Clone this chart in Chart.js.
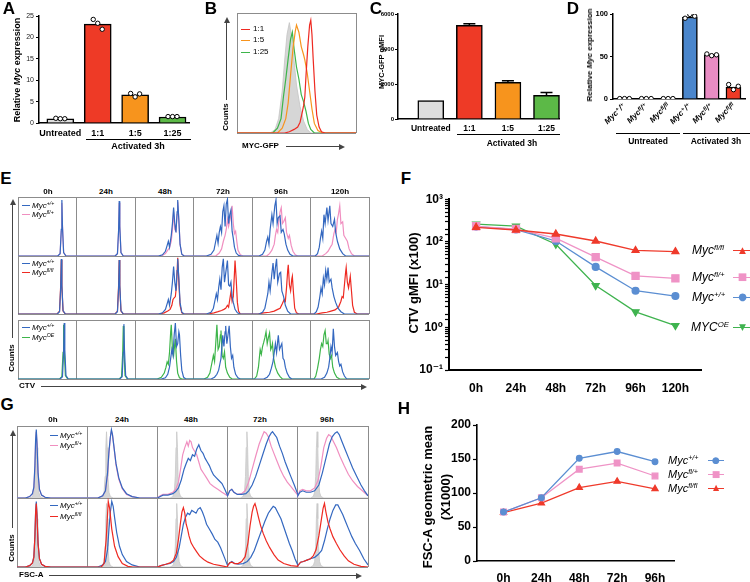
<!DOCTYPE html>
<html><head><meta charset="utf-8">
<script src="https://cdn.jsdelivr.net/npm/chart.js@4.4.1/dist/chart.umd.min.js"></script>
<style>
body{margin:0;background:#fff;width:750px;height:582px;position:relative;overflow:hidden;font-family:"Liberation Sans",Arial,sans-serif;color:#000}
canvas{position:absolute}
.t{position:absolute;white-space:nowrap;font-weight:bold;line-height:1}
sup{font-size:65%;vertical-align:0.5em;line-height:0}
.ln{position:absolute;height:0}
.vl{position:absolute;width:0}
.hd{position:absolute;width:0;height:0}
</style></head><body>
<script>
// ---------------- DATA ----------------
const A_CATS = ['Untreated', '1:1', '1:5', '1:25'];
const A_VALUES = [1.0, 23.1, 6.6, 1.4];
const A_DOTS = [[1.1, 1.0, 1.0], [24.2, 23.3, 21.9], [6.9, 6.1, 6.8], [1.5, 1.5, 1.5]];
const C_CATS = ['Untreated', '1:1', '1:5', '1:25'];
const C_VALUES = [1050, 5350, 2100, 1350];
const C_ERR_TOP = [1050, 5450, 2180, 1520];
const D_CATS = ['Myc⁺/⁺', 'Mycᶠˡ/⁺', 'Mycᶠˡ/ᶠˡ', 'Myc⁺/⁺', 'Mycᶠˡ/⁺', 'Mycᶠˡ/ᶠˡ'];
const D_VALUES = [0.5, 0.5, 0.5, 96.5, 52, 14];
const D_DOTS = [[0.5, 0.5, 0.5], [0.5, 0.5, 0.5], [0.5, 0.5, 0.5], [95, 99.5, 97.5], [53, 51, 52], [17, 11, 15]];

// B histograms (x: % of plot width, y: % of height)
const B_GRAY = [[0,0],[28,0],[32,3],[35,12],[38,35],[40,60],[42,82],[44,92],[46,80],[48,60],[50,40],[53,22],[56,10],[59,3],[62,0],[100,0]];
const B_GREEN = [[0,0],[30,0],[34,4],[37,12],[39,30],[41,45],[43,62],[45,78],[46.5,84],[48,70],[50,55],[52,45],[54,32],[56,26],[58,18],[60,8],[62,3],[65,0],[100,0]];
const B_ORANGE = [[0,0],[34,0],[38,4],[41,12],[43,25],[45,48],[47,70],[49,85],[50,90],[52,84],[54,72],[56,65],[57,61],[59,50],[61,35],[63,20],[65,8],[68,2],[72,0],[100,0]];
const B_RED = [[0,0],[40,0],[44,1],[48,3],[51,5],[53,9],[55,18],[56,23],[57,30],[58,48],[59.5,72],[61,90],[62,94],[63,82],[64,62],[65.5,35],[67,15],[69,5],[71,1],[74,0],[100,0]];

// E: CTV histograms, one list of panels (0h..120h) per curve per row
const E_TIMES = ['0h', '24h', '48h', '72h', '96h', '120h'];
const E1_BLUE = [
 [[0,0],[68,0],[72,4],[74,45],[75,95],[76,50],[78,6],[82,0],[100,0]],
 [[0,0],[66,0],[70,4],[72,45],[73,93],[74,50],[76,6],[80,0],[100,0]],
 [[0,0],[40,0],[47,2],[52,8],[55,18],[57,25],[59,15],[62,35],[64,55],[66,82],[68,55],[70,40],[72,75],[73,95],[75,60],[77,20],[80,3],[84,0],[100,0]],
 [[0,0],[22,0],[30,3],[35,10],[38,25],[40,35],[42,22],[44,40],[46,50],[48,40],[50,75],[52,85],[54,50],[56,88],[58,96],[60,55],[62,70],[64,78],[66,42],[68,30],[70,15],[73,5],[77,1],[82,0],[100,0]],
 [[0,0],[12,0],[18,3],[22,10],[25,25],[27,32],[29,20],[31,45],[34,70],[36,55],[39,85],[41,95],[43,55],[45,65],[48,68],[50,40],[53,45],[55,38],[58,20],[61,10],[65,3],[70,0],[100,0]],
 [[0,0],[8,0],[12,4],[15,15],[17,30],[19,42],[21,30],[23,70],[25,55],[28,82],[30,60],[33,85],[35,55],[38,50],[41,62],[43,40],[46,25],[50,12],[55,4],[60,0],[100,0]]
];
const E1_PINK = [
 [[0,0],[68,0],[72,4],[74,42],[75,90],[76,52],[78,6],[82,0],[100,0]],
 [[0,0],[66,0],[70,4],[72,42],[73,90],[74,52],[76,6],[80,0],[100,0]],
 [[0,0],[45,0],[52,4],[56,10],[59,14],[62,25],[64,45],[66,75],[68,45],[70,42],[72,70],[73,92],[75,60],[77,20],[80,3],[84,0],[100,0]],
 [[0,0],[38,0],[44,5],[48,12],[51,25],[54,35],[56,45],[58,62],[60,50],[62,60],[64,70],[66,85],[68,55],[70,38],[72,42],[74,25],[76,10],[80,2],[85,0],[100,0]],
 [[0,0],[25,0],[30,4],[34,10],[38,20],[40,35],[42,45],[44,40],[46,60],[48,75],[50,82],[52,55],[54,58],[57,65],[59,40],[62,30],[64,35],[67,18],[70,8],[74,2],[78,0],[100,0]],
 [[0,0],[20,0],[26,4],[30,8],[34,15],[37,20],[40,38],[42,45],[44,40],[46,62],[48,72],[50,85],[52,55],[55,58],[57,35],[60,30],[63,25],[66,12],[70,4],[75,0],[100,0]]
];
const E2_BLUE = [
 [[0,0],[67,0],[71,4],[73,45],[74,95],[75,50],[77,6],[81,0],[100,0]],
 [[0,0],[66,0],[70,4],[72,45],[73,93],[74,50],[76,6],[80,0],[100,0]],
 [[0,0],[40,0],[47,2],[52,8],[55,18],[57,25],[59,15],[62,35],[64,55],[66,82],[68,55],[70,40],[72,75],[73,95],[75,60],[77,20],[80,3],[84,0],[100,0]],
 [[0,0],[22,0],[30,3],[34,10],[37,25],[39,35],[41,25],[43,45],[45,60],[47,42],[49,80],[51,95],[53,55],[55,70],[58,92],[60,50],[62,48],[64,55],[66,30],[68,20],[71,8],[75,2],[80,0],[100,0]],
 [[0,0],[12,0],[18,3],[22,10],[25,25],[27,35],[29,55],[31,40],[34,70],[36,88],[38,60],[40,80],[42,95],[44,55],[47,70],[49,72],[51,40],[54,30],[57,15],[61,5],[66,0],[100,0]],
 [[0,0],[6,0],[10,4],[13,12],[16,30],[18,45],[20,35],[22,62],[24,50],[26,75],[28,60],[30,80],[32,55],[35,60],[37,45],[40,30],[43,20],[47,10],[52,4],[58,0],[100,0]]
];
const E2_RED = [
 [[0,0],[67,0],[71,5],[73,50],[74,93],[75,48],[77,5],[81,0],[100,0]],
 [[0,0],[66,0],[70,5],[72,50],[73,93],[74,48],[76,5],[80,0],[100,0]],
 [[0,0],[42,0],[50,2],[56,5],[60,8],[63,15],[65,25],[67,28],[69,30],[71,50],[73,97],[75,55],[77,15],[80,2],[84,0],[100,0]],
 [[0,0],[25,0],[35,2],[42,4],[48,6],[52,8],[55,10],[58,15],[60,12],[62,25],[64,38],[66,22],[68,30],[70,70],[71,92],[73,60],[75,20],[77,5],[80,0],[100,0]],
 [[0,0],[10,0],[20,2],[30,3],[38,5],[44,8],[48,10],[52,18],[55,25],[57,22],[59,45],[61,75],[62,85],[64,50],[66,40],[68,60],[69,65],[71,35],[73,10],[76,2],[80,0],[100,0]],
 [[0,0],[10,0],[20,2],[28,3],[35,5],[42,7],[48,12],[52,22],[54,30],[56,28],[58,50],[60,72],[61,80],[63,55],[65,45],[67,58],[68,65],[70,40],[72,15],[75,3],[80,0],[100,0]]
];
const E3_BLUE = [
 [[0,0],[72,0],[76,4],[78,45],[79,95],[80,50],[82,6],[86,0],[100,0]],
 [[0,0],[74,0],[78,4],[80,45],[81,93],[82,50],[84,6],[88,0],[100,0]],
 [[0,0],[45,0],[52,2],[56,8],[59,20],[61,35],[63,50],[65,40],[67,75],[69,95],[71,55],[73,60],[75,80],[76,75],[78,40],[80,15],[83,3],[87,0],[100,0]],
 [[0,0],[30,0],[36,3],[40,8],[43,15],[45,25],[47,35],[50,74],[52,55],[54,80],[55,90],[57,60],[59,75],[61,90],[63,55],[65,35],[67,40],[69,20],[72,8],[76,2],[80,0],[100,0]],
 [[0,0],[20,0],[26,3],[30,8],[33,18],[36,30],[38,45],[40,60],[42,45],[44,65],[45,74],[47,50],[49,55],[51,60],[53,35],[55,32],[57,20],[60,10],[64,3],[68,0],[100,0]],
 [[0,0],[18,0],[24,3],[28,10],[31,20],[33,35],[35,55],[37,45],[39,85],[41,55],[43,40],[46,45],[48,30],[50,22],[52,25],[55,12],[58,5],[62,0],[100,0]]
];
const E3_GREEN = [
 [[0,0],[71,0],[75,4],[77,45],[78,92],[79,50],[81,6],[85,0],[100,0]],
 [[0,0],[73,0],[77,4],[79,45],[80,90],[81,50],[83,6],[87,0],[100,0]],
 [[0,0],[38,0],[45,3],[50,10],[53,20],[55,29],[57,25],[59,45],[61,80],[62,92],[64,50],[66,40],[68,60],[69,68],[71,30],[73,10],[76,2],[80,0],[100,0]],
 [[0,0],[18,0],[24,3],[28,10],[31,25],[33,35],[34,40],[36,30],[38,60],[40,92],[42,50],[44,55],[46,75],[47,82],[49,40],[51,35],[53,46],[55,20],[58,10],[62,3],[66,0],[100,0]],
 [[0,0],[4,0],[8,5],[11,20],[13,40],[14,50],[16,42],[18,55],[20,62],[22,70],[24,80],[26,60],[28,70],[30,78],[32,50],[34,55],[35,60],[37,35],[40,20],[44,10],[48,4],[52,0],[100,0]],
 [[0,0],[6,0],[9,5],[12,18],[15,35],[17,50],[19,60],[21,55],[23,75],[25,82],[27,60],[29,60],[30,65],[32,42],[34,35],[36,40],[38,20],[41,10],[45,3],[50,0],[100,0]]
];

// G: FSC-A histograms (0h..96h)
const G_TIMES = ['0h', '24h', '48h', '72h', '96h'];
const G_GRAY = [[0,0],[18,0],[22,2],[24,8],[25.5,30],[26.5,70],[27.5,92],[28.5,70],[29.5,30],[31,8],[33,2],[37,0],[100,0]];
const G1_BLUE = [
 [[0,0],[12,0],[18,2],[22,6],[24,15],[25.5,45],[26.5,80],[27.5,95],[28.5,75],[30,35],[32,12],[35,4],[40,1],[48,0],[100,0]],
 [[0,0],[15,0],[22,3],[26,10],[29,35],[31,65],[33,85],[34.5,95],[36,88],[38,72],[41,48],[45,28],[50,14],[56,6],[64,2],[75,0],[100,0]],
 [[0,0],[4,2],[8,4],[15,4],[22,6],[26,9],[30,14],[34,25],[38,40],[41,48],[44,55],[47,52],[50,60],[53,58],[56,68],[59,74],[62,66],[65,62],[68,55],[71,50],[74,45],[77,38],[80,32],[84,28],[88,24],[92,20],[96,12],[100,3]],
 [[0,3],[3,10],[6,12],[9,8],[14,5],[20,5],[26,6],[30,10],[35,18],[40,30],[45,45],[50,60],[55,75],[59,85],[62,90],[64,92],[67,88],[70,84],[74,72],[78,62],[82,50],[86,40],[90,30],[95,18],[100,5]],
 [[0,3],[3,8],[7,10],[12,8],[18,8],[24,10],[30,18],[35,35],[40,55],[45,75],[49,85],[53,90],[56,92],[59,88],[63,78],[68,66],[73,54],[78,42],[84,30],[90,18],[95,10],[100,3]]
];
const G1_PINK = [
 [[0,0],[12,0],[18,2],[22,6],[24,14],[25.5,42],[26.5,78],[27.5,92],[28.5,75],[30,35],[32,12],[35,4],[40,1],[48,0],[100,0]],
 [[0,0],[15,0],[22,3],[26,10],[29,32],[31,62],[33,84],[34.5,93],[36,88],[38,72],[41,46],[45,26],[50,13],[56,5],[64,2],[75,0],[100,0]],
 [[0,0],[4,3],[8,5],[15,5],[22,8],[26,12],[30,22],[33,40],[36,60],[39,70],[42,78],[44,72],[46,80],[48,78],[50,70],[53,65],[56,60],[59,50],[62,40],[66,34],[70,28],[75,20],[80,16],[86,12],[92,8],[100,3]],
 [[0,3],[3,10],[6,12],[9,8],[14,5],[20,6],[25,10],[30,22],[35,40],[40,58],[45,75],[49,85],[52,92],[55,90],[58,85],[62,72],[66,62],[70,52],[75,40],[80,30],[85,22],[90,16],[95,10],[100,4]],
 [[0,3],[3,10],[7,12],[12,10],[18,10],[24,14],[29,25],[33,45],[37,70],[41,83],[44,88],[47,86],[50,80],[55,70],[60,58],[66,45],[72,33],[78,24],[85,16],[92,10],[100,3]]
];
const G2_BLUE = [
 [[0,0],[12,0],[18,2],[22,6],[24,15],[25.5,45],[26.5,80],[27.5,95],[28.5,75],[30,35],[32,12],[35,4],[40,1],[48,0],[100,0]],
 [[0,0],[15,0],[22,3],[26,8],[29,25],[31,55],[33,80],[35,95],[37,88],[39,72],[42,50],[46,30],[50,18],[56,8],[64,3],[75,0],[100,0]],
 [[0,0],[5,2],[12,4],[18,5],[23,8],[27,14],[31,28],[34,45],[37,62],[40,72],[43,78],[46,76],[49,82],[52,80],[55,78],[58,84],[61,86],[64,80],[67,72],[70,62],[74,55],[78,48],[82,40],[86,36],[90,28],[95,15],[100,2]],
 [[0,2],[3,6],[6,8],[10,5],[15,4],[22,5],[28,8],[33,14],[38,24],[43,38],[48,52],[53,66],[58,78],[62,84],[65,88],[68,86],[72,78],[76,70],[80,58],[84,46],[88,34],[92,24],[96,12],[100,3]],
 [[0,2],[4,7],[8,8],[13,10],[18,12],[24,14],[29,18],[34,24],[38,38],[42,55],[46,70],[50,82],[54,90],[57,90],[60,84],[64,76],[68,66],[72,56],[77,44],[82,34],[88,24],[94,12],[100,3]]
];
const G2_RED = [
 [[0,0],[12,0],[18,2],[22,6],[24,14],[25.5,44],[26.5,78],[27.5,92],[28.5,74],[30,34],[32,12],[35,4],[40,1],[48,0],[100,0]],
 [[0,0],[20,0],[24,5],[27,40],[30,95],[32,85],[35,55],[39,30],[44,15],[50,5],[58,1],[65,0],[100,0]],
 [[0,0],[5,2],[12,4],[18,6],[23,10],[27,20],[30,40],[33,65],[35,80],[37,86],[39,78],[41,62],[43,55],[45,45],[48,35],[52,28],[56,22],[60,16],[66,11],[72,7],[80,4],[90,2],[100,0]],
 [[0,2],[3,6],[6,7],[10,5],[15,5],[20,8],[25,15],[29,35],[32,60],[35,80],[37,88],[39,92],[41,85],[44,72],[47,60],[51,48],[55,38],[60,28],[66,18],[72,10],[80,5],[90,2],[100,1]],
 [[0,2],[4,7],[8,8],[13,10],[18,12],[22,16],[26,25],[30,45],[33,65],[36,85],[38,92],[40,80],[43,65],[46,55],[50,44],[55,34],[60,25],[66,16],[72,9],[80,4],[90,1],[100,0]]
];

// F: CTV gMFI (x100), log scale
const F_TIMES = ['0h', '24h', '48h', '72h', '96h', '120h'];
const F_FLFL = [220, 190, 153, 105, 63, 59];
const F_FLP = [232, 200, 122, 44, 16, 14];
const F_WT = [228, 195, 105, 26, 7.2, 5.4];
const F_OE = [260, 235, 88, 9.5, 2.3, 1.1];
const F_YTICKS = {'3': '10³', '2': '10²', '1': '10¹', '0': '10⁰', '-1': '10⁻¹'};

// H: FSC-A geometric mean (x1000)
const H_TIMES = ['0h', '24h', '48h', '72h', '96h'];
const H_WT = [72, 93, 151, 161, 146];
const H_FLP = [72, 93, 135, 144, 125];
const H_FLFL = [71, 85, 108, 117, 106];

// ---------------- STYLE ----------------
const COL = {gray:'#dedede', red:'#ee3a26', orange:'#f7941d', green:'#5cb947',
  hBlue:'#3468c0', hPink:'#f08fc0', hRed:'#ee2a22', hGreen:'#3db54a', hGray:'#d6d6d6',
  lBlue:'#5b8ed2', lPink:'#ef93c6', lRed:'#ef3a2b', lGreen:'#3fb34f', dBlue:'#4a86cc', dPink:'#e88cc3'};
Chart.defaults.font.family = '"Liberation Sans", Arial, "DejaVu Sans", sans-serif';
Chart.defaults.color = '#000';
Chart.defaults.animation = false;
Chart.defaults.plugins.legend.display = false;
Chart.defaults.plugins.tooltip.enabled = false;

function mk(l, t, w, h) {
  const c = document.createElement('canvas');
  c.width = w; c.height = h;
  c.style.left = l + 'px'; c.style.top = t + 'px'; c.style.width = w + 'px'; c.style.height = h + 'px';
  document.body.appendChild(c);
  return c;
}
function T(html, x, y, size, mode, extra) {
  const d = document.createElement('div');
  d.className = 't'; d.innerHTML = html;
  d.style.left = x + 'px'; d.style.top = y + 'px'; d.style.fontSize = size + 'px';
  d.style.transform = mode === 'l' ? 'translate(0,-50%)' : mode === 'r' ? 'translate(-50%,-50%) rotate(-90deg)' : 'translate(-50%,-50%)';
  if (extra) d.style.cssText += extra;
  document.body.appendChild(d);
  return d;
}
function H(x1, x2, y, color, w) {
  const d = document.createElement('div'); d.className = 'ln';
  d.style.cssText += `left:${x1}px;top:${y}px;width:${x2 - x1}px;border-top:${w}px solid ${color}`;
  document.body.appendChild(d);
}
function V(x, y1, y2, color, w) {
  const d = document.createElement('div'); d.className = 'vl';
  d.style.cssText += `left:${x}px;top:${y1}px;height:${y2 - y1}px;border-left:${w}px solid ${color}`;
  document.body.appendChild(d);
}
function arrowR(x1, x2, y) {
  H(x1, x2 - 5, y, '#444', 1);
  const d = document.createElement('div'); d.className = 'hd';
  d.style.cssText += `left:${x2 - 6}px;top:${y - 2.5}px;border-left:6px solid #444;border-top:3px solid transparent;border-bottom:3px solid transparent`;
  document.body.appendChild(d);
}
function arrowU(x, y1, y2) {
  V(x, y1 + 5, y2, '#444', 1);
  const d = document.createElement('div'); d.className = 'hd';
  d.style.cssText += `left:${x - 2.5}px;top:${y1}px;border-bottom:6px solid #444;border-left:3px solid transparent;border-right:3px solid transparent`;
  document.body.appendChild(d);
}
function hleg(x, y, color, html, size, len) {
  H(x, x + len, y, color, 1.6);
  T(html, x + len + 2, y + 0.5, size, 'l', 'font-weight:normal;font-style:italic');
}
function mleg(xText, y, html, size, xl1, xl2, color, glyph, gsize) {
  T(html, xText, y, size, 'l', 'font-weight:normal;font-style:italic');
  H(xl1, xl2, y, color, 1.3);
  T(glyph, (xl1 + xl2) / 2, y, gsize, 'c', `color:${color};font-family:"DejaVu Sans";font-weight:normal`);
}

// ---------------- BAR CHARTS ----------------
function barChart(box, cfg) {
  const c = mk(...box);
  const datasets = [{
    type: 'bar', data: cfg.values.map((v, i) => ({x: i, y: v})),
    backgroundColor: cfg.colors, borderColor: '#000', borderWidth: 1.5, barThickness: cfg.bw, order: 1
  }];
  if (cfg.dots) datasets.push({
    type: 'scatter', order: 0,
    data: cfg.dots.flatMap((arr, i) => arr.map((v, j) => ({x: i + (j - 1) * cfg.jit, y: v}))),
    pointRadius: 2.2, pointBackgroundColor: '#fff', pointBorderColor: '#000', pointBorderWidth: 1
  });
  return new Chart(c, {
    type: 'bar', data: {datasets},
    options: {
      responsive: false, maintainAspectRatio: false,
      layout: {padding: {top: cfg.padTop, left: 0, right: 0, bottom: 0}},
      scales: {
        x: {type: 'linear', offset: false, min: cfg.xmin, max: cfg.xmax, bounds: 'data',
          afterBuildTicks: s => { s.ticks = cfg.cats.map((_, i) => ({value: i})); },
          ticks: Object.assign({callback: v => cfg.cats[v], autoSkip: false, maxRotation: 0}, cfg.xticks),
          grid: {display: false, drawTicks: false, offset: false}, border: {color: '#000', width: 1.5},
          afterFit: s => { s.height = cfg.xh; }},
        y: {min: 0, max: cfg.ymax,
          ticks: Object.assign({stepSize: cfg.step, padding: 2, callback: v => String(v)}, cfg.yticks),
          grid: {drawOnChartArea: false, color: '#000', tickLength: 3, tickWidth: 1},
          border: {color: '#000', width: 1.5},
          afterFit: s => { s.width = cfg.yw; }}
      }
    },
    plugins: cfg.plugins || []
  });
}

barChart([0, 0, 194, 142], {
  values: A_VALUES, dots: A_DOTS, jit: 0.12, cats: A_CATS,
  colors: [COL.gray, COL.red, COL.orange, COL.green], bw: 27,
  padTop: 16, xmin: -0.57, xmax: 3.44, xh: 19, yw: 39, ymax: 25, step: 5,
  xticks: {font: {size: 9, weight: 'bold'}, padding: 5},
  yticks: {font: {size: 7}, color: '#222'}
});

const errPlugin = {id: 'errbars', afterDatasetsDraw(chart) {
  const {ctx} = chart, x = chart.scales.x, y = chart.scales.y;
  ctx.save(); ctx.strokeStyle = '#000'; ctx.lineWidth = 1.5;
  C_VALUES.forEach((v, i) => {
    const px = x.getPixelForValue(i), y0 = y.getPixelForValue(v), y1 = y.getPixelForValue(C_ERR_TOP[i]);
    if (y0 - y1 < 1) return;
    ctx.beginPath(); ctx.moveTo(px, y0); ctx.lineTo(px, y1);
    ctx.moveTo(px - 6, y1); ctx.lineTo(px + 6, y1); ctx.stroke();
  });
  ctx.restore();
}};
barChart([350, 0, 210, 140], {
  values: C_VALUES, cats: C_CATS,
  colors: [COL.gray, COL.red, COL.orange, COL.green], bw: 26,
  padTop: 14, xmin: -0.85, xmax: 3.35, xh: 21, yw: 48, ymax: 6000, step: 2000,
  xticks: {font: {size: 8.5, weight: 'bold'}, padding: 5},
  yticks: {font: {size: 6, weight: 'bold'}, padding: 1},
  plugins: [errPlugin]
});

barChart([555, 0, 195, 140], {
  values: D_VALUES, dots: D_DOTS, jit: 0.22, cats: D_CATS,
  colors: [COL.gray, COL.gray, COL.gray, COL.dBlue, COL.dPink, COL.red], bw: 15,
  padTop: 14, xmin: -0.53, xmax: 5.53, xh: 41, yw: 58, ymax: 100, step: 50,
  xticks: {font: {size: 8, style: 'italic', weight: 'bold'}, padding: 2, minRotation: 45, maxRotation: 45},
  yticks: {font: {size: 7.5, weight: 'bold'}}
});

// ---------------- HISTOGRAMS ----------------
function flat(panels) { return panels.flatMap((pts, col) => pts.map(([x, y]) => ({x: col + x / 100, y}))); }
function histChart(l, t, w, h, nCols, sets) {
  const c = mk(l - 1, t - 1, w + 2, h + 2);
  return new Chart(c, {
    type: 'line',
    data: {datasets: sets.map(s => ({
      data: flat(s.panels), borderColor: s.color,
      backgroundColor: s.fill || 'rgba(0,0,0,0)', fill: s.fill ? 'origin' : false,
      order: s.order, borderWidth: s.bw || 1.2, pointRadius: 0, tension: 0
    }))},
    options: {
      responsive: false, maintainAspectRatio: false,
      layout: {padding: 1},
      scales: {
        x: {type: 'linear', min: 0, max: nCols, ticks: {display: false, stepSize: 1},
          grid: {color: '#8c8c8c', drawTicks: false, lineWidth: 1}, border: {display: false},
          afterFit: s => { s.height = 0; }},
        y: {min: 0, max: 100, ticks: {display: false, stepSize: 100},
          grid: {color: '#8c8c8c', drawTicks: false, lineWidth: 1}, border: {display: false},
          afterFit: s => { s.width = 0; }}
      }
    }
  });
}
const rep = (a, n) => Array.from({length: n}, () => a);

// B
histChart(237, 13, 119, 120, 1, [
  {panels: [B_GRAY], color: '#c4c4c4', fill: COL.hGray, order: 4, bw: 0.8},
  {panels: [B_GREEN], color: COL.hGreen, order: 3},
  {panels: [B_ORANGE], color: COL.orange, order: 2},
  {panels: [B_RED], color: COL.hRed, order: 1}
]);

// E
histChart(18, 197, 351, 59, 6, [
  {panels: E1_PINK, color: COL.hPink, order: 1},
  {panels: E1_BLUE, color: COL.hBlue, order: 0}
]);
histChart(18, 256, 351, 58, 6, [
  {panels: E2_RED, color: COL.hRed, order: 1},
  {panels: E2_BLUE, color: COL.hBlue, order: 0}
]);
histChart(18, 320, 351, 59, 6, [
  {panels: E3_GREEN, color: COL.hGreen, order: 1},
  {panels: E3_BLUE, color: COL.hBlue, order: 0}
]);

// G
histChart(17, 426, 351, 72, 5, [
  {panels: rep(G_GRAY, 5), color: '#c8c8c8', fill: COL.hGray, order: 2, bw: 0.8},
  {panels: G1_PINK, color: COL.hPink, order: 1},
  {panels: G1_BLUE, color: COL.hBlue, order: 0}
]);
histChart(17, 498, 351, 69, 5, [
  {panels: rep(G_GRAY, 5), color: '#c8c8c8', fill: COL.hGray, order: 2, bw: 0.8},
  {panels: G2_BLUE, color: COL.hBlue, order: 1},
  {panels: G2_RED, color: COL.hRed, order: 0}
]);

// ---------------- LINE CHARTS ----------------
function lineDs(vals, color, style, r, rot) {
  return {data: vals.map((v, i) => ({x: i, y: v})), borderColor: color, backgroundColor: color,
    pointBackgroundColor: color, pointBorderColor: color, pointStyle: style, pointRadius: r,
    pointRotation: rot || 0, borderWidth: 1.3, tension: 0};
}
function lineChart(box, cfg) {
  const c = mk(...box);
  return new Chart(c, {
    type: 'line', data: {datasets: cfg.datasets},
    options: {
      responsive: false, maintainAspectRatio: false,
      layout: {padding: {top: cfg.padTop, left: 0, right: 0, bottom: 0}},
      scales: {
        x: {type: 'linear', offset: false, min: cfg.xmin, max: cfg.xmax, bounds: 'data',
          afterBuildTicks: s => { s.ticks = cfg.cats.map((_, i) => ({value: i})); },
          ticks: {callback: v => cfg.cats[v], autoSkip: false, maxRotation: 0, font: {size: 12, weight: 'bold'}, padding: cfg.xpad},
          grid: {display: false, drawTicks: false}, border: {color: '#000', width: cfg.bw},
          afterFit: s => { s.height = cfg.xh; }},
        y: cfg.y
      }
    }
  });
}
lineChart([380, 190, 328, 205], {
  cats: F_TIMES, xmin: -0.68, xmax: 5.66, padTop: 8, xh: 25, xpad: 11, bw: 2,
  datasets: [
    lineDs(F_FLFL, COL.lRed, 'triangle', 4),
    lineDs(F_FLP, COL.lPink, 'rect', 5),
    lineDs(F_WT, COL.lBlue, 'circle', 3.4),
    lineDs(F_OE, COL.lGreen, 'triangle', 4, 180)
  ],
  y: {type: 'logarithmic', min: 0.1, max: 1000,
    ticks: {autoSkip: false, font: {size: 12, weight: 'bold'}, padding: 2,
      callback: v => { const l = Math.log10(v); const r = Math.round(l); return Math.abs(l - r) < 1e-6 ? (F_YTICKS[String(r)] || '') : ''; }},
    grid: {drawOnChartArea: false, color: '#000', tickLength: 4, tickWidth: 1.2},
    border: {color: '#000', width: 2},
    afterFit: s => { s.width = 69; }}
});
lineChart([380, 415, 300, 167], {
  cats: H_TIMES, xmin: -0.7, xmax: 4.52, padTop: 10, xh: 21, xpad: 10, bw: 1.6,
  datasets: [
    lineDs(H_WT, COL.lBlue, 'circle', 2.8),
    lineDs(H_FLP, COL.lPink, 'rect', 4),
    lineDs(H_FLFL, COL.lRed, 'triangle', 3.5)
  ],
  y: {min: 0, max: 200, ticks: {stepSize: 50, font: {size: 12, weight: 'bold'}, padding: 2},
    grid: {drawOnChartArea: false, color: '#000', tickLength: 4, tickWidth: 1.2},
    border: {color: '#000', width: 1.6},
    afterFit: s => { s.width = 97; }}
});

// ---------------- TEXT / DECORATIONS ----------------
[['A', 9, 8], ['B', 211, 8], ['C', 376, 8], ['D', 573, 8], ['E', 6, 178], ['F', 406, 178], ['G', 7, 404], ['H', 404, 408]]
  .forEach(([s, x, y]) => T(s, x, y, 17));

// A
T('Relative <i>Myc</i> expression', 17, 70, 9, 'r');
H(86, 191, 139, '#000', 1.5);
T('Activated 3h', 138, 146, 9);

// B
[['1:1', COL.hRed, 29], ['1:5', COL.orange, 40], ['1:25', COL.hGreen, 52]].forEach(([s, c, y]) => {
  H(241, 250, y, c, 1.6); T(s, 253, y, 8, 'l', 'font-weight:normal');
});
arrowU(226, 17, 100);
T('Counts', 226, 117, 8, 'r');
T('MYC-GFP', 242, 146, 8, 'l');
arrowR(286, 345, 146);

// C
T('MYC-GFP gMFI', 382, 62, 7.5, 'r');
H(457, 560, 134, '#000', 1.5);
T('Activated 3h', 512, 143, 8.5);

// D
T('Relative <i>Myc</i> expression', 590, 55, 8, 'r');
H(616, 680, 133, '#000', 1.5);
H(683, 750, 133, '#000', 1.5);
T('Untreated', 648, 141, 8.5);
T('Activated 3h', 716, 141, 8.5);

// E
[48, 106, 165, 223, 281, 340].forEach((x, i) => T(E_TIMES[i], x, 192, 8));
hleg(22, 205, COL.hBlue, 'Myc<sup>+/+</sup>', 8, 8);
hleg(22, 214, COL.hPink, 'Myc<sup>fl/+</sup>', 8, 8);
hleg(22, 263, COL.hBlue, 'Myc<sup>+/+</sup>', 8, 8);
hleg(22, 272, COL.hRed, 'Myc<sup>fl/fl</sup>', 8, 8);
hleg(22, 327, COL.hBlue, 'Myc<sup>+/+</sup>', 8, 8);
hleg(22, 337, COL.hGreen, 'Myc<sup>OE</sup>', 8, 8);
arrowU(12, 199, 338);
T('Counts', 12, 358, 8, 'r');
T('CTV', 19, 386, 8, 'l');
arrowR(41, 367, 386);

// F
T('CTV gMFI (x100)', 413, 283, 13, 'r');
mleg(692, 250, 'Myc<sup>fl/fl</sup>', 12, 733, 752, COL.lRed, '▲', 9);
mleg(692, 277, 'Myc<sup>fl/+</sup>', 12, 733, 752, COL.lPink, '■', 10);
mleg(692, 297, 'Myc<sup>+/+</sup>', 12, 733, 752, COL.lBlue, '●', 10);
mleg(691, 327, 'MYC<sup>OE</sup>', 12, 733, 752, COL.lGreen, '▼', 9);

// G
[53, 122, 191, 260, 327].forEach((x, i) => T(G_TIMES[i], x, 420, 8));
hleg(50, 435, COL.hBlue, 'Myc<sup>+/+</sup>', 8, 8);
hleg(50, 445, COL.hPink, 'Myc<sup>fl/+</sup>', 8, 8);
hleg(50, 505, COL.hBlue, 'Myc<sup>+/+</sup>', 8, 8);
hleg(50, 516, COL.hRed, 'Myc<sup>fl/fl</sup>', 8, 8);
arrowU(12, 430, 528);
T('Counts', 12, 548, 8, 'r');
T('FSC-A', 19, 575, 8, 'l');
arrowR(49, 362, 575);

// H
T('FSC-A geometric mean', 427, 497, 13, 'r');
T('(X1000)', 445, 497, 13, 'r');
mleg(668, 460, 'Myc<sup>+/+</sup>', 11, 708, 724, COL.lBlue, '●', 9);
mleg(668, 474, 'Myc<sup>fl/+</sup>', 11, 708, 724, COL.lPink, '■', 9);
mleg(668, 488, 'Myc<sup>fl/fl</sup>', 11, 708, 724, COL.lRed, '▲', 8);
</script>
</body></html>
